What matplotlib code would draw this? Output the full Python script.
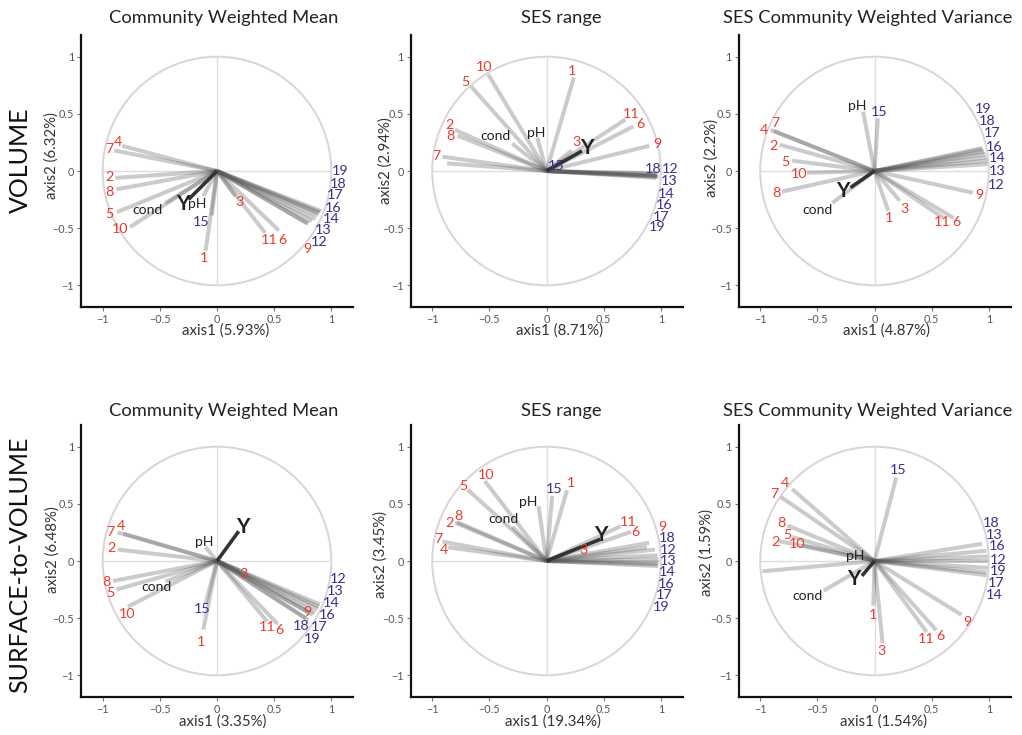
import numpy as np
import matplotlib
matplotlib.use("Agg")
import matplotlib.pyplot as plt
from matplotlib.patches import Circle

plt.rcParams['font.family'] = ['Lato', 'DejaVu Sans']

# ---------------- data ----------------
VARS = [str(i) for i in range(1, 20)] + ['cond', 'pH', 'Y']

ROW_LABELS = ['VOLUME', 'SURFACE-to-VOLUME']
TITLES = ['Community Weighted Mean', 'SES range', 'SES Community Weighted Variance']
AXIS1_PCT = ['5.93%', '8.71%', '4.87%', '3.35%', '19.34%', '1.54%']
AXIS2_PCT = ['6.32%', '2.94%', '2.2%', '6.48%', '3.45%', '1.59%']

# Panel 1: VOLUME / Community Weighted Mean  (arrow ends, then label positions)
P1_X = [-0.10, -0.89, 0.16, -0.83, -0.875, 0.54, -0.90, -0.88, 0.79, -0.76, 0.42,
        0.80, 0.83, 0.86, -0.045, 0.88, 0.89, 0.90, 0.91, -0.45, -0.12, -0.25]
P1_Y = [-0.70, -0.06, -0.22, 0.22, -0.36, -0.52, 0.18, -0.16, -0.46, -0.49, -0.54,
        -0.46, -0.44, -0.42, -0.39, -0.39, -0.37, -0.36, -0.35, -0.28, -0.22, -0.25]
P1_LX = [-0.11, -0.94, 0.195, -0.87, -0.94, 0.57, -0.94, -0.94, 0.79, -0.85, 0.46,
         0.89, 0.93, 1.00, -0.14, 1.02, 1.03, 1.06, 1.08, -0.61, -0.17, -0.30]
P1_LY = [-0.76, -0.05, -0.27, 0.25, -0.38, -0.60, 0.19, -0.18, -0.68, -0.51, -0.60,
         -0.62, -0.52, -0.42, -0.45, -0.32, -0.21, -0.11, 0.00, -0.34, -0.29, -0.29]

# Panel 2: VOLUME / SES range  (label 4 not shown)
P2_X = [0.24, -0.80, 0.22, -0.87, -0.66, 0.76, -0.91, -0.78, 0.90, -0.51, 0.69,
        0.97, 0.97, 0.98, 0.04, 0.97, 0.96, 0.95, 0.96, -0.30, -0.08, 0.31]
P2_Y = [0.82, 0.36, 0.18, 0.067, 0.74, 0.39, 0.125, 0.31, 0.22, 0.845, 0.45,
        -0.03, -0.04, -0.05, 0.02, -0.05, -0.04, -0.02, -0.06, 0.24, 0.29, 0.175]
P2_LX = [0.22, -0.85, 0.26, np.nan, -0.71, 0.82, -0.96, -0.84, 0.97, -0.55, 0.74,
         1.08, 1.07, 1.05, 0.08, 1.03, 1.00, 0.93, 0.97, -0.45, -0.09, 0.35]
P2_LY = [0.875, 0.40, 0.25, np.nan, 0.78, 0.41, 0.13, 0.31, 0.24, 0.91, 0.50,
         0.02, -0.087, -0.20, 0.04, -0.30, -0.40, 0.02, -0.49, 0.31, 0.335, 0.20]

# Panel 3: VOLUME / SES Community Weighted Variance
P3_X = [0.12, -0.83, 0.22, -0.91, -0.72, 0.69, -0.88, -0.81, 0.86, -0.59, 0.60,
        0.99, 0.99, 0.98, 0.03, 0.97, 0.96, 0.95, 0.94, -0.37, -0.10, -0.21]
P3_Y = [-0.35, 0.23, -0.26, 0.36, 0.09, -0.41, 0.35, -0.18, -0.19, -0.015, -0.41,
        0.06, 0.09, 0.12, 0.46, 0.15, 0.17, 0.19, 0.20, -0.28, 0.52, -0.145]
P3_LX = [0.125, -0.88, 0.26, -0.97, -0.78, 0.72, -0.87, -0.86, 0.92, -0.66, 0.59,
         1.06, 1.07, 1.07, 0.04, 1.05, 1.03, 0.99, 0.95, -0.50, -0.15, -0.28]
P3_LY = [-0.415, 0.22, -0.33, 0.36, 0.08, -0.45, 0.42, -0.195, -0.21, -0.03, -0.45,
         -0.12, 0.00, 0.11, 0.52, 0.21, 0.33, 0.44, 0.54, -0.34, 0.57, -0.175]

# Panel 4: SURFACE-to-VOLUME / Community Weighted Mean
P4_X = [-0.12, -0.87, 0.20, -0.82, -0.88, 0.53, -0.87, -0.91, 0.80, -0.78, 0.44,
        0.90, 0.89, 0.88, -0.10, 0.86, 0.84, 0.78, 0.80, -0.45, -0.10, 0.19]
P4_Y = [-0.60, 0.10, -0.08, 0.24, -0.25, -0.55, 0.25, -0.175, -0.45, -0.40, -0.53,
        -0.38, -0.40, -0.42, -0.37, -0.45, -0.47, -0.50, -0.52, -0.18, 0.12, 0.26]
P4_LX = [-0.14, -0.92, 0.23, -0.84, -0.93, 0.55, -0.93, -0.97, 0.79, -0.79, 0.44,
         1.06, 1.03, 1.00, -0.13, 0.965, 0.89, 0.74, 0.83, -0.53, -0.11, 0.23]
P4_LY = [-0.71, 0.11, -0.11, 0.305, -0.28, -0.60, 0.25, -0.18, -0.445, -0.46, -0.58,
         -0.16, -0.265, -0.37, -0.42, -0.47, -0.575, -0.57, -0.68, -0.23, 0.17, 0.30]

# Panel 5: SURFACE-to-VOLUME / SES range
P5_X = [0.18, -0.80, 0.30, -0.86, -0.69, 0.74, -0.91, -0.78, 0.90, -0.54, 0.65,
        0.95, 0.97, 0.98, 0.05, 0.98, 0.977, 0.88, 0.97, -0.30, -0.07, 0.47]
P5_Y = [0.62, 0.335, 0.12, 0.12, 0.625, 0.256, 0.17, 0.34, 0.16, 0.70, 0.305,
        0.10, 0.05, 0.015, 0.57, -0.015, -0.044, 0.12, -0.03, 0.30, 0.48, 0.19]
P5_LX = [0.21, -0.85, 0.32, -0.90, -0.73, 0.78, -0.95, -0.77, 1.01, -0.53, 0.715,
         1.06, 1.06, 1.06, 0.067, 1.05, 1.03, 1.06, 1.00, -0.375, -0.16, 0.48]
P5_LY = [0.68, 0.335, 0.10, 0.096, 0.66, 0.25, 0.19, 0.39, 0.30, 0.75, 0.34,
         0.10, 0.00, -0.10, 0.63, -0.20, -0.30, 0.20, -0.40, 0.37, 0.52, 0.23]

# Panel 6: SURFACE-to-VOLUME / SES Community Weighted Variance (+1 unlabeled vector)
P6_X = [-0.01, -0.84, 0.07, -0.72, -0.72, 0.54, -0.82, -0.76, 0.76, -0.63, 0.456,
        0.99, 0.98, 0.98, 0.19, 0.99, 0.98, 0.94, 0.99, -0.445, -0.10, -0.11, -0.98]
P6_Y = [-0.39, 0.175, -0.72, 0.63, 0.21, -0.605, 0.56, 0.31, -0.47, 0.14, -0.62,
        0.00, 0.09, -0.125, 0.73, 0.04, -0.10, 0.15, -0.06, -0.26, 0.035, -0.13, -0.09]
P6_LX = [-0.01, -0.87, 0.064, -0.78, -0.765, 0.58, -0.875, -0.81, 0.81, -0.68, 0.456,
         1.08, 1.05, 1.05, 0.21, 1.07, 1.06, 1.02, 1.08, -0.59, -0.17, -0.18, np.nan]
P6_LY = [-0.47, 0.17, -0.785, 0.68, 0.23, -0.66, 0.59, 0.33, -0.53, 0.15, -0.68,
         0.01, 0.23, -0.30, 0.80, 0.13, -0.19, 0.33, -0.09, -0.31, 0.044, -0.155, np.nan]

PANELS = [(P1_X, P1_Y, P1_LX, P1_LY), (P2_X, P2_Y, P2_LX, P2_LY),
          (P3_X, P3_Y, P3_LX, P3_LY), (P4_X, P4_Y, P4_LX, P4_LY),
          (P5_X, P5_Y, P5_LX, P5_LY), (P6_X, P6_Y, P6_LX, P6_LY)]

# ---------------- styling / layout ----------------
W, H = 1022, 735
RED = '#ec3a2f'
NAVY = '#3a2f8f'
BLACK = '#231f20'
LINE_GRAY = '#555555'

fig = plt.figure(figsize=(W / 100, H / 100), dpi=100)

col_left = [81, 410.5, 738.5]
row_bottom = [307, 697]
size = 272
LIM = 1.19

title_x = [224, 561, 868]
title_y = [18, 411]
xlab_x = [[226, 559, 886], [223, 553, 883]]
xlab_y = [331, 722]
ylab_x = [[52, 386, 712], [53, 381, 707]]
ylab_y = [[156, 161, 158], [550, 555, 553]]
rowlab_y = [160, 565]


def fx(px):
    return px / W


def fy(py):
    return 1 - py / H


for idx, (xs, ys, lxs, lys) in enumerate(PANELS):
    r, c = divmod(idx, 3)
    ax = fig.add_axes([fx(col_left[c]), fy(row_bottom[r]), size / W, size / H])
    ax.set_xlim(-LIM, LIM)
    ax.set_ylim(-LIM, LIM)
    ax.set_aspect('equal', adjustable='box')
    for s in ['top', 'right']:
        ax.spines[s].set_visible(False)
    for s in ['left', 'bottom']:
        ax.spines[s].set_linewidth(1.6)
        ax.spines[s].set_color('#111111')
    ticks = [-1, -0.5, 0, 0.5, 1]
    ax.set_xticks(ticks)
    ax.set_yticks(ticks)
    ax.set_xticklabels(['\u22121', '\u22120.5', '0', '0.5', '1'])
    ax.set_yticklabels(['\u22121', '\u22120.5', '0', '0.5', '1'])
    ax.tick_params(length=3, width=0.8, color='#777777', labelsize=7.8,
                   labelcolor='#555555', pad=2)

    ax.add_patch(Circle((0, 0), 1, fill=False, ec='#dcd3d6', lw=1.4, zorder=1))
    ax.plot([-1, 1], [0, 0], color='#dddddd', lw=1, zorder=1)
    ax.plot([0, 0], [-1, 1], color='#dddddd', lw=1, zorder=1)

    names = VARS + [''] * (len(xs) - len(VARS))
    for name, x, y in zip(names, xs, ys):
        if name == 'Y':
            continue
        ax.plot([0, x], [0, y], color=LINE_GRAY, alpha=0.3, lw=2.9,
                solid_capstyle='butt', zorder=2)
    yi = VARS.index('Y')
    ax.plot([0, xs[yi]], [0, ys[yi]], color='#333333', lw=2.6,
            solid_capstyle='butt', zorder=3)

    for name, lx, ly in zip(names, lxs, lys):
        if not name or np.isnan(lx):
            continue
        if name == 'Y':
            ax.text(lx, ly, name, color=BLACK, fontsize=15, fontweight='bold',
                    ha='center', va='center', zorder=5)
        elif name in ('cond', 'pH'):
            ax.text(lx, ly, name, color=BLACK, fontsize=10, ha='center',
                    va='center', zorder=5)
        else:
            col = RED if int(name) <= 11 else NAVY
            ax.text(lx, ly, name, color=col, fontsize=10.3, ha='center',
                    va='center', zorder=5, clip_on=False)

    fig.text(fx(title_x[c]), fy(title_y[r]), TITLES[c], fontsize=13.2,
             ha='center', va='center', color='#222222')
    fig.text(fx(xlab_x[r][c]), fy(xlab_y[r]), 'axis1 (%s)' % AXIS1_PCT[idx],
             fontsize=10.8, ha='center', va='center', color='#333333')
    fig.text(fx(ylab_x[r][c]), fy(ylab_y[r][c]), 'axis2 (%s)' % AXIS2_PCT[idx],
             fontsize=10.8, ha='center', va='center', rotation=90, color='#333333')

for r in range(2):
    fig.text(fx(20), fy(rowlab_y[r]), ROW_LABELS[r], fontsize=18, ha='center',
             va='center', rotation=90, color='#111111')

fig.savefig('out.png', dpi=100, facecolor='white')
